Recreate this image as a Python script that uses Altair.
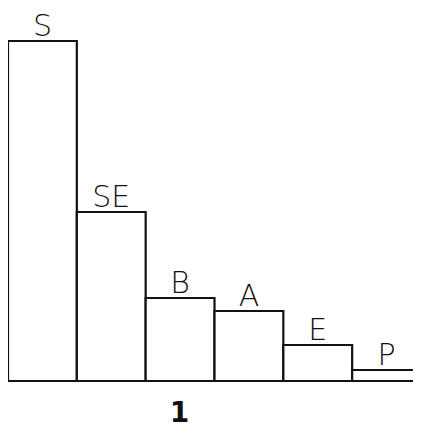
import altair as alt
import pandas as pd

categories = ["S", "SE", "B", "A", "E", "P"]
values = [340, 169, 83, 70, 36, 11]
panel_label = "1"

df = pd.DataFrame({"cat": categories, "val": values})

x = alt.X("cat:N", sort=categories,
          scale=alt.Scale(paddingInner=0, paddingOuter=0, range=[0, 413]),
          axis=alt.Axis(labels=False, ticks=False, domain=False, grid=False,
                        title=panel_label, titleFontSize=28, titleFontWeight="bold",
                        titleFont="DejaVu Sans", titleColor="#111",
                        titleX=171, titleY=40, titleBaseline="alphabetic",
                        titleAlign="center", titleAnchor="start"))
y = alt.Y("val:Q", scale=alt.Scale(domain=[0, 369], nice=False, zero=True), axis=None)

bars = alt.Chart(df).mark_bar(fill="white", stroke="#111", strokeWidth=2.2).encode(x=x, y=y)

labels = alt.Chart(df).mark_text(
    baseline="alphabetic", align="center", dy=-5, fontSize=30,
    font="DejaVu Sans", fontWeight=300, color="#111"
).encode(x=alt.X("cat:N", sort=categories), y="val:Q", text="cat:N")

chart = (bars + labels).properties(
    width=405, height=369,
    autosize=alt.AutoSizeParams(type="none"),
    padding={"left": 0, "top": 4, "right": 0, "bottom": 47},
    background="white",
).configure_view(stroke=None)

chart.save("out.html", embed_options={"renderer": "svg", "actions": False})
